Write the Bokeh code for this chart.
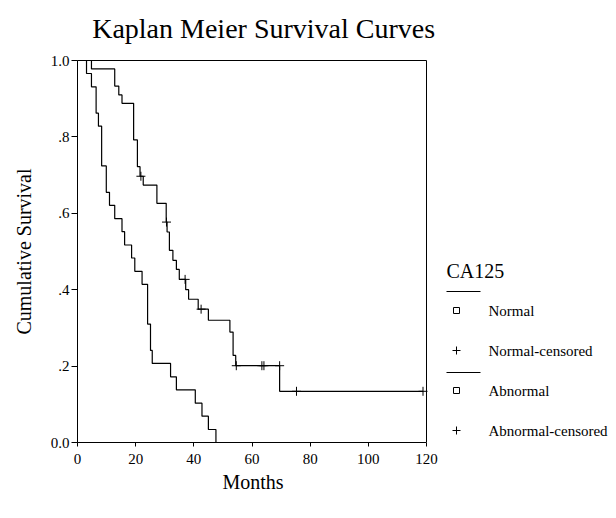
from bokeh.plotting import figure
from bokeh.models import Range1d, FixedTicker
from bokeh.layouts import row
from bokeh.core.properties import value
from bokeh.embed import file_html
from bokeh.resources import INLINE

# ---------------- data ----------------
title_text = "Kaplan Meier Survival Curves"
x_label = "Months"
y_label = "Cumulative Survival"
x_ticks = [0, 20, 40, 60, 80, 100, 120]
y_ticks = [0.0, 0.2, 0.4, 0.6, 0.8, 1.0]
y_tick_labels = ["0.0", ".2", ".4", ".6", ".8", "1.0"]

legend_title = "CA125"
legend_labels = ["Normal", "Normal-censored", "Abnormal", "Abnormal-censored"]

# Normal group: event times (months) and survival after each event
normal_t = [4.8, 12.8, 14.2, 15.3, 19.3, 20.6, 21.5, 22.6, 27.3, 30.5, 30.8,
            31.6, 32.8, 34.0, 35.0, 37.2, 38.2, 41.5, 45.0, 52.4, 53.5, 54.4, 69.5]
normal_s = [0.978, 0.933, 0.910, 0.888, 0.792, 0.722, 0.697, 0.674, 0.626, 0.577, 0.551,
            0.503, 0.477, 0.453, 0.427, 0.400, 0.375, 0.349, 0.320, 0.289, 0.228, 0.201, 0.134]
normal_end = 118.8
normal_cens_t = [21.8, 30.6, 37.0, 42.5, 54.6, 63.4, 64.1, 69.5, 75.3, 118.8]
normal_cens_s = [0.697, 0.577, 0.427, 0.349, 0.201, 0.201, 0.201, 0.201, 0.134, 0.134]

# Abnormal group
abn_t = [3.1, 4.8, 6.4, 7.2, 8.3, 9.9, 11.0, 12.8, 15.3, 16.2, 18.6,
         19.7, 22.2, 24.1, 25.1, 25.7, 32.0, 34.0, 40.5, 42.8, 45.0, 47.6]
abn_s = [0.966, 0.931, 0.862, 0.828, 0.724, 0.655, 0.621, 0.586, 0.552, 0.517, 0.483,
         0.448, 0.414, 0.310, 0.241, 0.207, 0.172, 0.138, 0.103, 0.069, 0.034, 0.0]

FONT = value("Liberation Serif")
NBSP = "\u00a0"

# ---------------- geometry (pixels) ----------------
PLOT_W, PLOT_H = 349, 382          # size of the 0..120 x 0..1 box
LEFT, TOP_PAD, BOTTOM = 77, 10, 68
FRAME_W = 361                      # frame extends right of the box so the title fits
FRAME_H = PLOT_H + 50              # frame extends above the box for the title
X_MAX = 120 * FRAME_W / PLOT_W
Y_MAX = FRAME_H / PLOT_H

# ---------------- main plot ----------------
p = figure(width=LEFT + FRAME_W, height=TOP_PAD + FRAME_H + BOTTOM,
           x_range=Range1d(0, X_MAX), y_range=Range1d(0, Y_MAX),
           output_backend="svg", toolbar_location=None,
           min_border_left=LEFT, min_border_right=0,
           min_border_top=TOP_PAD, min_border_bottom=BOTTOM)
p.background_fill_color = "white"
p.border_fill_color = "white"
p.grid.visible = False
p.outline_line_color = None

for ax in (p.xaxis[0], p.yaxis[0]):
    ax.axis_line_color = "black"
    ax.major_tick_line_color = "black"
    ax.minor_tick_line_color = None
    ax.major_tick_in = 0
    ax.major_label_text_font = "Liberation Serif"
    ax.major_label_text_font_size = "15px"
    ax.major_label_text_color = "black"
    ax.axis_label_text_font = "Liberation Serif"
    ax.axis_label_text_font_size = "20px"
    ax.axis_label_text_font_style = "normal"
    ax.axis_label_text_color = "black"

p.xaxis.ticker = FixedTicker(ticks=x_ticks)
p.xaxis.bounds = (x_ticks[0], x_ticks[-1])
p.xaxis.major_tick_out = 4
p.xaxis.major_label_standoff = 7
# trailing no-break spaces keep the label centred under the 0..120 box
p.xaxis.axis_label = x_label + NBSP * 2
p.xaxis.axis_label_standoff = 4

p.yaxis.ticker = FixedTicker(ticks=y_ticks)
p.yaxis.bounds = (y_ticks[0], y_ticks[-1])
p.yaxis.major_label_overrides = {t: s for t, s in zip(y_ticks, y_tick_labels)}
p.yaxis.major_tick_out = 6
p.yaxis.major_label_standoff = 2
# trailing no-break spaces keep the label centred beside the 0..1 box
p.yaxis.axis_label = y_label + NBSP * 10
p.yaxis.axis_label_standoff = 13

# top and right sides of the plot box
p.segment(x0=[x_ticks[0], x_ticks[-1]], y0=[y_ticks[-1], y_ticks[0]],
          x1=[x_ticks[-1], x_ticks[-1]], y1=[y_ticks[-1], y_ticks[-1]],
          line_color="black", line_width=1)

# title
p.text(x=[5.05], y=[1.084], text=[title_text], text_font=FONT, text_font_size="28px",
       text_baseline="middle", text_align="left", text_color="black")

# step curves
p.step(x=[0] + normal_t + [normal_end], y=[1.0] + normal_s + [normal_s[-1]],
       mode="after", line_color="black", line_width=1.2)
p.step(x=[0] + abn_t, y=[1.0] + abn_s, mode="after", line_color="black", line_width=1.2)
p.scatter(x=normal_cens_t, y=normal_cens_s, marker="cross", size=9,
          line_color="black", line_width=1)

# ---------------- legend panel (coordinates in page pixels) ----------------
lg = figure(width=170, height=TOP_PAD + FRAME_H + BOTTOM,
            x_range=Range1d(438, 608), y_range=Range1d(TOP_PAD + FRAME_H, TOP_PAD),
            output_backend="svg", toolbar_location=None,
            x_axis_location=None, y_axis_location=None,
            min_border_left=0, min_border_right=0,
            min_border_top=TOP_PAD, min_border_bottom=BOTTOM)
lg.grid.visible = False
lg.outline_line_color = None
lg.background_fill_color = "white"
lg.border_fill_color = "white"

lg.text(x=[446], y=[270], text=[legend_title], text_font=FONT, text_font_size="20px",
        text_baseline="middle", text_align="left", text_color="black")
lg.segment(x0=[446, 446], y0=[291, 372], x1=[480, 480], y1=[291, 372],
           line_color="black", line_width=1)
lg.scatter(x=[456, 456], y=[310, 390], marker="square", size=6,
           fill_color=None, line_color="black", line_width=1)
lg.scatter(x=[456, 456], y=[350, 430], marker="cross", size=8,
           line_color="black", line_width=1)
lg.text(x=[488, 488, 488, 488], y=[310, 350, 390, 430], text=legend_labels, text_font=FONT,
        text_font_size="15px", text_baseline="middle", text_align="left", text_color="black")

layout = row(p, lg, spacing=0)
open("out.html", "w").write(file_html(layout, INLINE))
